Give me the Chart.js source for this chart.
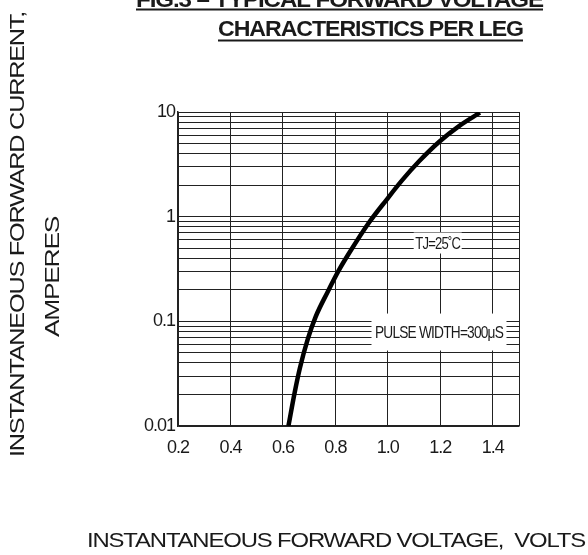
<!DOCTYPE html>
<html>
<head>
<meta charset="utf-8">
<script src="https://cdn.jsdelivr.net/npm/chart.js@4.4.0/dist/chart.umd.min.js"></script>
<style>
html, body { margin: 0; padding: 0; background: #fff; }
</style>
</head>
<body>
<canvas id="fwdChart" width="588" height="555"></canvas>
<script>
// forward voltage (V) vs instantaneous forward current (A)
var voltage = [0.621, 0.645, 0.665, 0.695, 0.725, 0.77, 0.814, 0.852, 0.927, 0.995, 1.054, 1.12, 1.196, 1.27, 1.351];
var current = [0.01, 0.021, 0.036, 0.068, 0.111, 0.19, 0.31, 0.447, 0.87, 1.45, 2.22, 3.4, 5.2, 7.3, 9.85];

var xTickLabels = ["0.2", "0.4", "0.6", "0.8", "1.0", "1.2", "1.4"];
var xMax = 1.5;
var yTickLabels = ["0.01", "0.1", "1", "10"];
var decadeSteps = [1, 2, 3, 4, 5, 6, 7, 8, 9];

var FONT = "'Liberation Sans', Arial, Helvetica, sans-serif";
var INK = "#1a1a1a";

// draw text squeezed/stretched to a given width (the scan uses narrow type)
function fitText(ctx, text, x, y, width, font, rot, baseline) {
    ctx.save();
    ctx.font = font;
    ctx.fillStyle = INK;
    ctx.translate(x, y);
    if (rot) ctx.rotate(rot);
    var w = ctx.measureText(text).width;
    ctx.scale(width / w, 1);
    ctx.textAlign = "center";
    ctx.textBaseline = baseline || "middle";
    ctx.fillText(text, 0, 0);
    ctx.restore();
}

var textPlugin = {
    id: "sheetText",
    beforeDraw: function (chart) {
        // tight tracking like the scanned sheet
        chart.ctx.letterSpacing = "-1px";
    },
    afterDraw: function (chart) {
        var ctx = chart.ctx;
        var xs = chart.scales.x, ys = chart.scales.y;

        // title, first line cut off by the page edge
        fitText(ctx, "FIG.3 \u2013 TYPICAL FORWARD VOLTAGE", 339.5, 7, 407, "bold 22px " + FONT, 0, "alphabetic");
        fitText(ctx, "CHARACTERISTICS PER LEG", 370.5, 36, 305, "bold 22px " + FONT, 0, "alphabetic");
        ctx.fillStyle = INK;
        ctx.fillRect(136, 8.5, 407, 2);
        ctx.fillRect(218, 39.5, 305, 2);

        // axis titles
        fitText(ctx, "INSTANTANEOUS FORWARD CURRENT,", 18, 234.5, 445, "20px " + FONT, -Math.PI / 2);
        fitText(ctx, "AMPERES", 53.5, 277, 120, "20px " + FONT, -Math.PI / 2);
        fitText(ctx, "INSTANTANEOUS FORWARD VOLTAGE,  VOLTS", 336, 541.5, 498, "21px " + FONT);

        // boxed notes on the grid
        var notes = [
            { text: "TJ=25\u02daC", x: 1.19, y: 0.56, w: 48, h: 21, tw: 45 },
            { text: "PULSE WIDTH=300\u03bcS", x: 1.195, y: 0.079, w: 135, h: 37, tw: 128 }
        ];
        notes.forEach(function (n) {
            var cx = xs.getPixelForValue(n.x);
            var cy = ys.getPixelForValue(n.y);
            ctx.fillStyle = "#fff";
            ctx.fillRect(cx - n.w / 2, cy - n.h / 2, n.w, n.h);
            fitText(ctx, n.text, cx, cy + 1, n.tw, "17px " + FONT);
        });
    }
};

function renderForwardChart() {
    var ctx = document.getElementById("fwdChart").getContext("2d");
    var points = voltage.map(function (v, i) {
        return { x: v, y: current[i] };
    });

    new Chart(ctx, {
        type: "line",
        data: {
            datasets: [
                {
                    data: points,
                    borderColor: "#000",
                    borderWidth: 4.5,
                    pointRadius: 0,
                    fill: false,
                    cubicInterpolationMode: "monotone",
                },
            ],
        },
        options: {
            responsive: false,
            devicePixelRatio: 1,
            animation: false,
            layout: { padding: { left: 0, top: 112, right: 69, bottom: 89 } },
            plugins: {
                legend: { display: false },
                tooltip: { enabled: false },
                title: { display: false },
            },
            scales: {
                x: {
                    type: "linear",
                    min: parseFloat(xTickLabels[0]),
                    max: xMax,
                    afterBuildTicks: function (scale) {
                        var ticks = xTickLabels.map(function (t) {
                            return { value: parseFloat(t) };
                        });
                        ticks.push({ value: xMax });
                        scale.ticks = ticks;
                    },
                    afterFit: function (scale) {
                        scale.height = 40;
                    },
                    grid: { color: "#222", lineWidth: 1, drawTicks: false },
                    border: { color: "#222", width: 1.5 },
                    ticks: {
                        autoSkip: false,
                        maxRotation: 0,
                        padding: 11,
                        color: INK,
                        font: { family: FONT, size: 18 },
                        callback: function (value, index) {
                            return xTickLabels[index] || "";
                        },
                    },
                },
                y: {
                    type: "logarithmic",
                    min: parseFloat(yTickLabels[0]),
                    max: parseFloat(yTickLabels[yTickLabels.length - 1]),
                    afterBuildTicks: function (scale) {
                        var ticks = [];
                        for (var d = 0; d < yTickLabels.length - 1; d++) {
                            var base = parseFloat(yTickLabels[d]);
                            decadeSteps.forEach(function (s) {
                                ticks.push({ value: parseFloat((base * s).toPrecision(6)) });
                            });
                        }
                        ticks.push({ value: parseFloat(yTickLabels[yTickLabels.length - 1]) });
                        scale.ticks = ticks;
                    },
                    afterFit: function (scale) {
                        scale.width = 178;
                    },
                    grid: { color: "#222", lineWidth: 1, drawTicks: false },
                    border: { color: "#222", width: 1.5 },
                    ticks: {
                        autoSkip: false,
                        padding: 3,
                        color: INK,
                        font: { family: FONT, size: 18 },
                        callback: function (value) {
                            for (var i = 0; i < yTickLabels.length; i++) {
                                if (Math.abs(parseFloat(yTickLabels[i]) - value) < 1e-9) return yTickLabels[i];
                            }
                            return "";
                        },
                    },
                },
            },
        },
        plugins: [textPlugin],
    });
}

document.addEventListener("DOMContentLoaded", renderForwardChart);
</script>
</body>
</html>
